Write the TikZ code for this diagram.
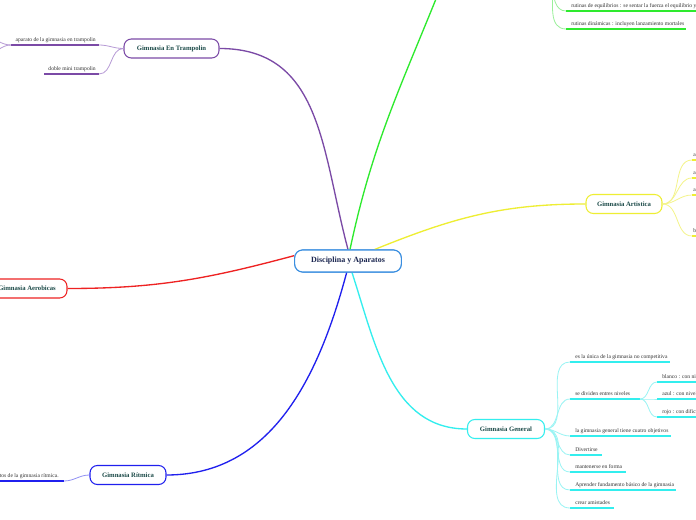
\documentclass[tikz,border=0pt]{standalone}
\usepackage{fontspec}
\setmainfont{Liberation Serif}
\definecolor{cpurple}{HTML}{7B4AA6}
\definecolor{lpurple}{HTML}{B79BD6}
\definecolor{cgreen}{HTML}{2EEA2E}
\definecolor{lgreen}{HTML}{9AF09A}
\definecolor{cyellow}{HTML}{EEEE33}
\definecolor{lyellow}{HTML}{F4F48A}
\definecolor{cred}{HTML}{EE2222}
\definecolor{cblue}{HTML}{2020EE}
\definecolor{lblue}{HTML}{9090F4}
\definecolor{ccyan}{HTML}{33EEEE}
\definecolor{lcyan}{HTML}{99F4F4}
\definecolor{cborder}{HTML}{3A8EE0}
\definecolor{ctext}{HTML}{1B2650}
\definecolor{mtext}{HTML}{1B4A48}
\definecolor{ltext}{HTML}{333333}
\tikzset{
  centralbox/.style={draw=cborder, line width=0.8pt, rounded corners=6pt, fill=white,
    minimum width=80pt, minimum height=16.5pt, inner sep=0pt, text=ctext,
    font=\fontsize{6}{7}\selectfont\bfseries},
  mainbox/.style={draw=#1, line width=0.8pt, rounded corners=5.5pt, fill=white,
    minimum height=14.25pt, inner sep=0pt, text=mtext,
    font=\fontsize{5}{6}\selectfont\bfseries},
  leaf/.style={text=ltext, inner sep=0pt, font=\fontsize{4.2}{5}\selectfont},
  uline/.style={draw=#1, line width=1.5pt},
  twig/.style={draw=#1, line width=0.6pt},
  branch/.style={draw=#1, line width=1pt},
}
\begin{document}
\begin{tikzpicture}[x=0.75pt,y=-0.75pt]
\clip (0,0) rectangle (696,520);
\fill[white] (0,0) rectangle (696,520);

% ---------- main nodes ----------
\node[centralbox] (c) at (348,261) {Disciplina y Aparatos};
\node[mainbox=cpurple, minimum width=71.25pt] (t) at (171.5,48.5) {Gimnasia En Trampolin};
\node[mainbox=cyellow, minimum width=57pt] (a) at (624,204) {Gimnasia Artistica};
\node[mainbox=cred, minimum width=60pt] (r) at (27,288.5) {Gimnasia Aerobicas};
\node[mainbox=cblue, minimum width=57pt] (b) at (128,475) {Gimnasia Rítmica};
\node[mainbox=ccyan, minimum width=57.75pt] (g) at (506,429) {Gimnasia General};

% ---------- branches from centre ----------
\coordinate (gtop) at (438,-6);
\draw[branch=cpurple] (t.east) to[out=0,in=105,looseness=1.1] ([xshift=0pt]c.north);
\draw[branch=cgreen] ([xshift=1.5pt]c.north) to[out=78,in=-112] (gtop);
\draw[branch=cyellow] ([xshift=20pt]c.north) to[out=22,in=180] (a.west);
\draw[branch=cred] (r.east) to[out=0,in=195] ([yshift=4pt]c.west);
\draw[branch=cblue] (b.east) to[out=0,in=-105] ([xshift=-1pt]c.south);
\draw[branch=ccyan] ([xshift=3pt]c.south) to[out=-72,in=180] (g.west);

% ---------- Trampolin children ----------
\coordinate (t1a) at (11,45);  \coordinate (t1b) at (99,45);
\coordinate (t2a) at (44,74);  \coordinate (t2b) at (99,74);
\coordinate (t1x) at (-14,38); \coordinate (t1y) at (-14,54);
\draw[uline=cpurple] (t1a) -- (t1b);
\draw[uline=cpurple] (t2a) -- (t2b);
\draw[twig=lpurple] (t.west) to[out=180,in=0] (t1b);
\draw[twig=lpurple] (t.west) to[out=180,in=0] (t2b);
\draw[twig=lpurple] (t1a) to[out=180,in=0] (t1x);
\draw[twig=lpurple] (t1a) to[out=180,in=0] (t1y);
\node[leaf, anchor=base east] (t1) at (96,42) {aparato de la gimnasia en trampolin};
\node[leaf, anchor=base east] (t2) at (96,71) {doble mini trampolin};

% ---------- green children (parent off the top) ----------
\coordinate (gp) at (553,-14);
\coordinate (e1a) at (566,11); \coordinate (e1b) at (700,11);
\coordinate (e2a) at (566,29); \coordinate (e2b) at (686,29);
\draw[uline=cgreen] (e1a) -- (e1b);
\draw[uline=cgreen] (e2a) -- (e2b);
\draw[twig=lgreen] (gp) to[out=-90,in=180] (e1a);
\draw[twig=lgreen] (gp) to[out=-90,in=180] (e2a);
\node[leaf, anchor=base west] (e1) at (571,8) {rutinas de equilibrios : se sentar la fuerza el equilibrio y la};
\node[leaf, anchor=base west] (e2) at (571,26) {rutinas dinámicas : incluyen lanzamiento mortales};

% ---------- Artistica children ----------
\foreach \y/\n/\s in {160/1/a,178/2/a,195/3/a,236/4/b}{
  \coordinate (a\n a) at (692,\y);
  \coordinate (a\n b) at (700,\y);
  \draw[uline=cyellow] (a\n a) -- (a\n b);
  \draw[twig=lyellow] (a.east) to[out=0,in=180] (a\n a);
  \node[leaf, anchor=base west] (al\n) at (693,\y-3) {\s};
}

% ---------- Ritmica child ----------
\coordinate (b1a) at (-6,481); \coordinate (b1b) at (64,481);
\draw[uline=cblue] (b1a) -- (b1b);
\draw[twig=lblue] (b.west) to[out=180,in=0] (b1b);
\node[leaf, anchor=base east] (b1) at (59,477) {aparatos de la gimnasia rítmica.};

% ---------- General children ----------
\foreach \y/\r/\n/\txt in {
  362/670/1/{es la única de la gimnasia no competitiva},
  399/640/2/{se dividen entres niveles},
  436/671/3/{la gimnasia general tiene cuatro objetivos},
  455/602/4/{Divertirse},
  472/626/5/{mantenerse en forma},
  490/676/6/{Aprender fundamento básico de la gimnasia},
  508/614/7/{crear amistades}}{
  \coordinate (g\n a) at (570,\y);
  \coordinate (g\n b) at (\r,\y);
  \draw[uline=ccyan] (g\n a) -- (g\n b);
  \draw[twig=lcyan] (g.east) to[out=0,in=180] (g\n a);
  \node[leaf, anchor=base west] (gl\n) at (575,\y-3.5) {\txt};
}
% sub-levels
\foreach \y/\n/\txt in {382/1/{blanco : con nivel},399/2/{azul : con nivel},417/3/{rojo : con dificultad}}{
  \coordinate (s\n a) at (657,\y);
  \coordinate (s\n b) at (700,\y);
  \draw[uline=ccyan] (s\n a) -- (s\n b);
  \draw[twig=lcyan] (g2b) to[out=0,in=180] (s\n a);
  \node[leaf, anchor=base west] (sl\n) at (662,\y-3.5) {\txt};
}

% redraw main nodes on top
\node[centralbox] at (c) {Disciplina y Aparatos};
\end{tikzpicture}
\end{document}
